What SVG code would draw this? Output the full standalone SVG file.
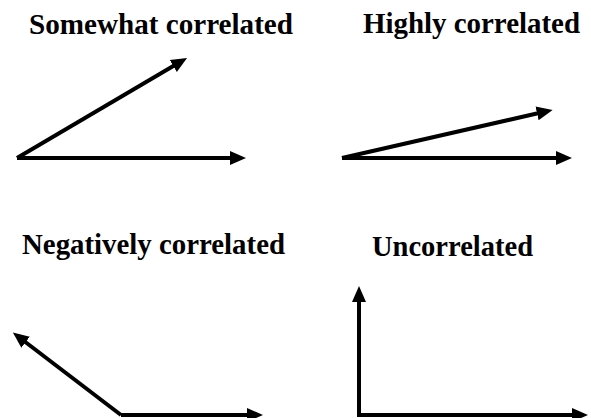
<svg xmlns="http://www.w3.org/2000/svg" width="591" height="418" viewBox="0 0 591 418">
<defs>
<style>
.t{font-family:"Liberation Serif","Times New Roman",serif;font-weight:bold;font-size:30px;fill:#000}
.a{stroke:#000;stroke-width:4;fill:none;marker-end:url(#h)}
</style>
<marker id="h" markerUnits="userSpaceOnUse" markerWidth="18" markerHeight="18" viewBox="0 0 18 18" refX="2" refY="9" orient="auto">
<path d="M0,2 L16,9 L0,16 Z" fill="#000"/>
</marker>
</defs>
<rect width="591" height="418" fill="#fff"/>
<g id="somewhat">
<text class="t" x="29" y="34" textLength="264" lengthAdjust="spacingAndGlyphs">Somewhat correlated</text>
</g>
<g id="highly">
<text class="t" x="363" y="33" textLength="217" lengthAdjust="spacingAndGlyphs">Highly correlated</text>
</g>
<g id="negatively">
<text class="t" x="22" y="254" textLength="263" lengthAdjust="spacingAndGlyphs">Negatively correlated</text>
</g>
<g id="uncorrelated">
<text class="t" x="372" y="256" textLength="161" lengthAdjust="spacingAndGlyphs">Uncorrelated</text>
</g>
<g id="connectors">
<line class="a" x1="17" y1="158" x2="232" y2="158"/>
<line class="a" x1="17" y1="158" x2="175" y2="65"/>
<line class="a" x1="342" y1="158" x2="558" y2="158"/>
<line class="a" x1="342" y1="158" x2="539" y2="113"/>
<line class="a" x1="121" y1="415" x2="249" y2="415"/>
<line class="a" x1="121" y1="415" x2="24" y2="341"/>
<line class="a" x1="359" y1="416" x2="359" y2="300"/>
<line class="a" x1="357" y1="415" x2="574" y2="415"/>
</g>
</svg>
